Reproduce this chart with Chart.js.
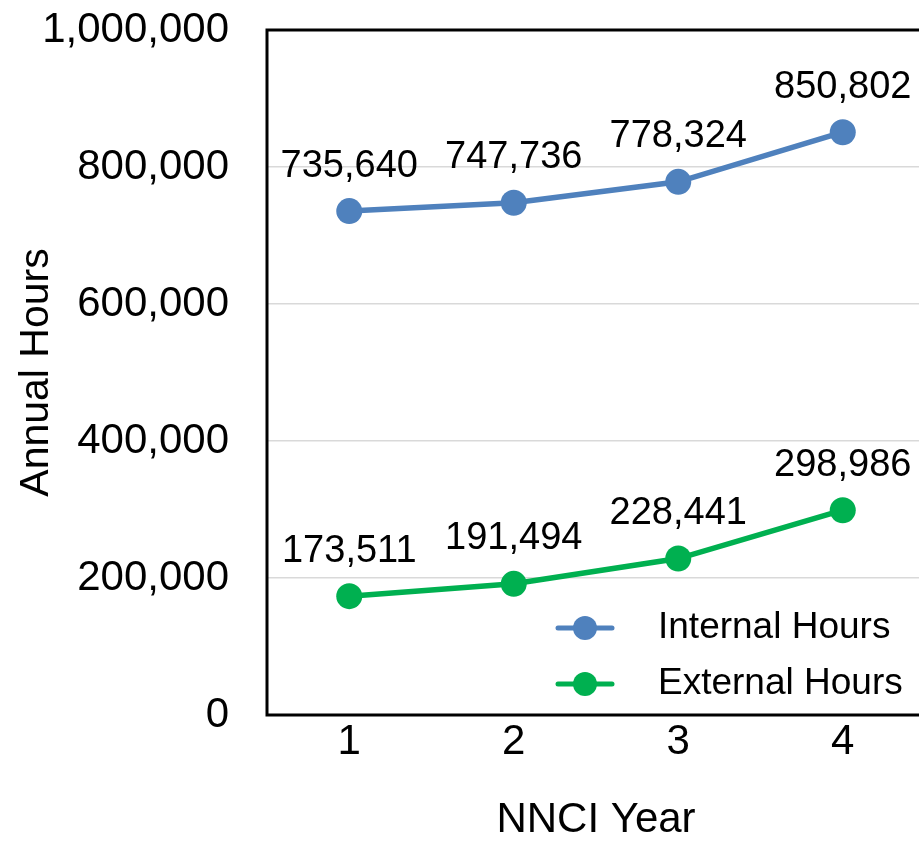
<!DOCTYPE html>
<html>
<head>
<meta charset="utf-8">
<script src="https://cdn.jsdelivr.net/npm/chart.js@4.4.1/dist/chart.umd.min.js"></script>
<style>
  html, body { margin: 0; padding: 0; background: #fff; overflow: hidden; }
  #wrap { width: 960px; height: 841px; }
</style>
</head>
<body>
<div id="wrap"><canvas id="lineChart" width="960" height="841"></canvas></div>
<script>
// data
const years = ['1', '2', '3', '4'];
const internalHours = [735640, 747736, 778324, 850802];
const externalHours = [173511, 191494, 228441, 298986];
const yTicks = [0, 200000, 400000, 600000, 800000, 1000000];

const FONT = "'Liberation Sans', Arial, sans-serif";
const fmt = v => v.toLocaleString('en-US');

// value labels above each point
const valueLabels = {
    id: 'valueLabels',
    afterDatasetsDraw(chart) {
        const ctx = chart.ctx;
        ctx.save();
        ctx.font = '38px ' + FONT;
        ctx.fillStyle = '#000';
        ctx.textAlign = 'center';
        ctx.textBaseline = 'middle';
        chart.data.datasets.forEach((ds, i) => {
            chart.getDatasetMeta(i).data.forEach((pt, j) => {
                ctx.fillText(fmt(ds.data[j]), pt.x, pt.y - 45);
            });
        });
        ctx.restore();
    }
};

// black frame on left, top and bottom of the plot
const frame = {
    id: 'frame',
    afterDraw(chart) {
        const { left, top, right, bottom } = chart.chartArea;
        const ctx = chart.ctx;
        ctx.save();
        ctx.strokeStyle = '#000';
        ctx.lineWidth = 3;
        ctx.beginPath();
        ctx.moveTo(right + 5, top);
        ctx.lineTo(left, top);
        ctx.lineTo(left, bottom);
        ctx.lineTo(right + 5, bottom);
        ctx.stroke();
        ctx.restore();
    }
};

// legend inside the plot, lower right
const innerLegend = {
    id: 'innerLegend',
    afterDraw(chart) {
        const { right, bottom } = chart.chartArea;
        const ctx = chart.ctx;
        ctx.save();
        ctx.font = '37px ' + FONT;
        ctx.textBaseline = 'middle';
        ctx.textAlign = 'left';
        chart.data.datasets.forEach((ds, i) => {
            const y = bottom - 87 + i * 56;
            const cx = right - 340;
            ctx.strokeStyle = ds.borderColor;
            ctx.lineWidth = 5;
            ctx.lineCap = 'round';
            ctx.beginPath();
            ctx.moveTo(cx - 27, y);
            ctx.lineTo(cx + 27, y);
            ctx.stroke();
            ctx.fillStyle = ds.borderColor;
            ctx.beginPath();
            ctx.arc(cx, y, 12, 0, Math.PI * 2);
            ctx.fill();
            ctx.fillStyle = '#000';
            ctx.fillText(ds.label, right - 267, y);
        });
        ctx.restore();
    }
};

const ctx = document.getElementById('lineChart').getContext('2d');
new Chart(ctx, {
    type: 'line',
    data: {
        labels: years,
        datasets: [{
            label: 'Internal Hours',
            data: internalHours,
            borderColor: '#4F81BD',
            backgroundColor: '#4F81BD',
            borderWidth: 5.5,
            pointRadius: 13,
            pointBorderWidth: 0,
            tension: 0
        }, {
            label: 'External Hours',
            data: externalHours,
            borderColor: '#00B050',
            backgroundColor: '#00B050',
            borderWidth: 5.5,
            pointRadius: 13,
            pointBorderWidth: 0,
            tension: 0
        }]
    },
    options: {
        responsive: false,
        animation: false,
        devicePixelRatio: 1,
        layout: { padding: { top: 30, right: 35, bottom: 0, left: 0 } },
        plugins: {
            legend: { display: false },
            tooltip: { enabled: false }
        },
        scales: {
            x: {
                offset: true,
                grid: { display: false, drawTicks: false },
                border: { display: false },
                ticks: { color: '#000', padding: 2, font: { family: FONT, size: 42 } },
                title: {
                    display: true, text: 'NNCI Year', color: '#000',
                    padding: 0, font: { family: FONT, size: 42, lineHeight: 1 }
                },
                afterFit(scale) { scale.height = 126; }
            },
            y: {
                min: 0,
                max: 1000000,
                afterBuildTicks(scale) { scale.ticks = yTicks.map(v => ({ value: v })); },
                grid: { color: '#d9d9d9', lineWidth: 1.5, drawTicks: false },
                border: { display: false },
                ticks: {
                    color: '#000', padding: 38,
                    font: { family: FONT, size: 42 },
                    callback: v => fmt(v)
                },
                title: {
                    display: true, text: 'Annual Hours', color: '#000',
                    padding: { top: 12, bottom: 0 },
                    font: { family: FONT, size: 41, lineHeight: 1.2 }
                },
                afterFit(scale) {
                    scale.width = 267;
                    scale.paddingTop = 0;
                    scale.paddingBottom = 0;
                }
            }
        }
    },
    plugins: [valueLabels, frame, innerLegend]
});
</script>
</body>
</html>
